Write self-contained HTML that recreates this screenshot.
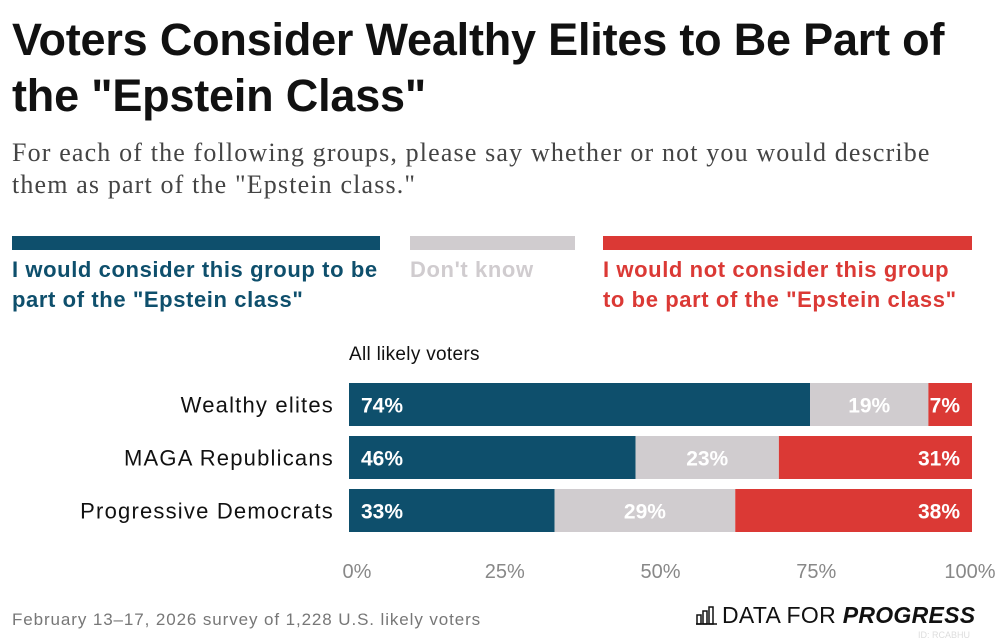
<!DOCTYPE html>
<html><head><meta charset="utf-8"><style>
body{margin:0;background:#fff;font-family:"Liberation Sans",sans-serif;}
#wrap{position:relative;width:1000px;height:643px;overflow:hidden;}
.t{position:absolute;white-space:nowrap;}
</style></head><body>
<div id="wrap">
<div class="t" style="left:12px;top:12px;font-size:45px;font-weight:bold;line-height:56px;color:#111;letter-spacing:-0.2px">Voters Consider Wealthy Elites to Be Part of<br>the "Epstein Class"</div>
<div class="t" style="left:12px;top:137px;font-family:'Liberation Serif',serif;font-size:26px;line-height:32px;color:#444;letter-spacing:1.15px">For each of the following groups, please say whether or not you would describe<br>them as part of the "Epstein class."</div>
<div style="position:absolute;left:12px;top:236px;width:368px;height:14px;background:#0e4f6c"></div>
<div style="position:absolute;left:410px;top:236px;width:165px;height:14px;background:#d0cccf"></div>
<div style="position:absolute;left:603px;top:236px;width:369px;height:14px;background:#db3935"></div>
<div class="t" style="left:12px;top:255px;font-size:22px;line-height:30px;font-weight:bold;color:#0e4f6c;letter-spacing:0.6px">I would consider this group to be<br>part of the "Epstein class"</div>
<div class="t" style="left:410px;top:255px;font-size:22px;line-height:30px;font-weight:bold;color:#d0cccf;letter-spacing:0.6px">Don't know</div>
<div class="t" style="left:603px;top:255px;font-size:22px;line-height:30px;font-weight:bold;color:#db3935;letter-spacing:0.6px">I would not consider this group<br>to be part of the "Epstein class"</div>
<div class="t" style="left:349px;top:344px;font-size:19px;color:#111;letter-spacing:0.3px">All likely voters</div>
<svg id="svg" width="1000" height="643" style="position:absolute;left:0;top:0"></svg>
<div class="t" style="left:12px;top:610px;font-size:17px;color:#777;letter-spacing:0.9px">February 13–17, 2026 survey of 1,228 U.S. likely voters</div>
<div class="t" style="left:696px;top:602px;font-size:23px;color:#111;letter-spacing:0.3px"><svg width="22" height="22" style="vertical-align:-2px;margin-right:4px"><g fill="none" stroke="#111" stroke-width="1.5"><rect x="1" y="12" width="4" height="9"/><rect x="7" y="8" width="4" height="13"/><rect x="13" y="4" width="4" height="17"/><line x1="0" y1="21" x2="21" y2="21"/></g></svg>DATA FOR <b><i>PROGRESS</i></b></div>
<div class="t" style="left:918px;top:630px;font-size:9px;color:#ddd">ID: RCABHU</div>
</div>
<script>
const categories=["Wealthy elites","MAGA Republicans","Progressive Democrats"];
const consider=[74,46,33];
const dontKnow=[19,23,29];
const notConsider=[7,31,38];
const ticks=[0,25,50,75,100];
const tickLabels=["0%","25%","50%","75%","100%"];
const NS="http://www.w3.org/2000/svg";
const svg=document.getElementById('svg');
const x0=349,x1=972;
const xs=v=>x0+(x1-x0)*v/100;
const ys=i=>383+i*53;
const bh=43;
function el(tag,attrs){const e=document.createElementNS(NS,tag);for(const k in attrs)e.setAttribute(k,attrs[k]);svg.appendChild(e);return e;}
const cols=["#0e4f6c","#d0cccf","#db3935"];
categories.forEach((c,i)=>{
  const y=ys(i);
  const lab=el('text',{x:334,y:y+bh/2+8,'text-anchor':'end','font-size':22,'letter-spacing':1.2,fill:'#111'});
  lab.textContent=c;
  
  
  const vals=[consider[i],dontKnow[i],notConsider[i]];
  let acc=0;
  vals.forEach((v,j)=>{
    const r=el('rect',{x:xs(acc),y:y,width:xs(acc+v)-xs(acc),height:bh,fill:cols[j]});
    
    
    let tx,anchor;
    if(j===0){tx=xs(acc)+12;anchor='start';}
    else if(j===2){tx=xs(acc+v)-12;anchor='end';}
    else{tx=(xs(acc)+xs(acc+v))/2;anchor='middle';}
    const t=el('text',{x:tx,y:y+bh/2+8,'text-anchor':anchor,'font-size':21,'font-weight':'bold',fill:'#fff'});
    t.textContent=v+'%';
    
    
    acc+=v;
  });
});
ticks.forEach((t,i)=>{
  let x=xs(t);
  if(i===0)x+=8; if(i===ticks.length-1)x-=2;
  const tt=el('text',{x:x,y:578,'text-anchor':'middle','font-size':20,fill:'#888'});
  tt.textContent=tickLabels[i];
  
  
});
</script>
</body></html>
